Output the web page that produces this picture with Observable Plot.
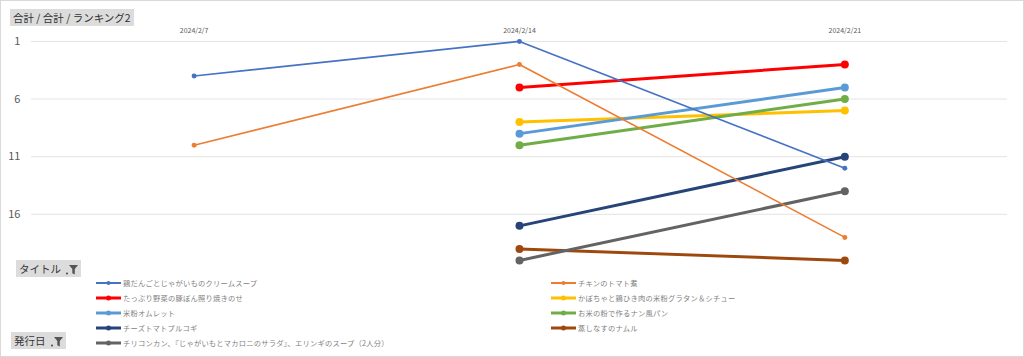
<!DOCTYPE html>
<html><head><meta charset="utf-8">
<script src="https://cdn.jsdelivr.net/npm/d3@7"></script>
<script src="https://cdn.jsdelivr.net/npm/@observablehq/plot@0.6"></script>
<style>
html,body{margin:0;padding:0;background:#fff;}
#wrap{position:relative;width:1024px;height:357px;box-sizing:border-box;border:1px solid #d9d9d9;overflow:hidden;font-family:"Noto Sans CJK JP","Noto Sans",sans-serif;}
#wrap svg.plot{position:absolute;left:-1px;top:-1px;}
.btn{position:absolute;background:#dcdcdc;color:#333;font-size:10.5px;line-height:17px;padding:0 3px;white-space:nowrap;}
.btn svg{vertical-align:-2px;margin-left:3px;}
.leg{position:absolute;font-size:7.3px;color:#7f7f7f;white-space:nowrap;line-height:10px;letter-spacing:0.2px;}
.leg svg{position:absolute;left:-27px;top:0;}
</style></head>
<body><div id="wrap"></div>
<script>
const dates = ["2024/2/7", "2024/2/14", "2024/2/21"];
const titles = [
  "鶏だんごとじゃがいものクリームスープ",
  "チキンのトマト煮",
  "たっぷり野菜の豚ぽん照り焼きのせ",
  "かぼちゃと鶏ひき肉の米粉グラタン＆シチュー",
  "米粉オムレット",
  "お米の粉で作るナン風パン",
  "チーズトマトプルコギ",
  "蒸しなすのナムル",
  "チリコンカン、『じゃがいもとマカロニのサラダ』、エリンギのスープ（2人分）"
];
const rank_0207 = [4, 10, null, null, null, null, null, null, null];
const rank_0214 = [1, 3, 5, 8, 9, 10, 17, 19, 20];
const rank_0221 = [12, 18, 3, 7, 5, 6, 11, 20, 14];
const colors = ["#4472C4", "#ED7D31", "#FF0000", "#FFC000", "#5B9BD5", "#70AD47", "#264478", "#9E480E", "#636363"];
const yTicks = [1, 6, 11, 16];

const cols = [rank_0207, rank_0214, rank_0221];
const rows = [];
titles.forEach((t, i) => {
  cols.forEach((c, j) => {
    if (c[i] != null) rows.push({title: t, date: dates[j], rank: c[i], thin: rank_0207[i] != null, idx: i});
  });
});
const thinRows = rows.filter(d => d.thin);
const thickRows = rows.filter(d => !d.thin);

const chart = Plot.plot({
  width: 1024, height: 357,
  marginLeft: 31, marginRight: 15, marginTop: 41, marginBottom: 85,
  style: {fontFamily: '"Noto Sans CJK JP","Noto Sans",sans-serif', background: "transparent"},
  x: {type: "point", domain: dates, padding: 0.5, label: null},
  y: {domain: [1, 21], reverse: true, label: null},
  color: {domain: titles, range: colors},
  marks: [
    Plot.gridY(yTicks, {stroke: "#e3e3e3", strokeOpacity: 1, strokeWidth: 1}),
    Plot.axisY(yTicks, {tickSize: 0, tickPadding: 11, fontSize: 11, fill: "#595959", label: null}),
    Plot.axisX({anchor: "top", tickSize: 0, tickPadding: 8, fontSize: 7, fill: "#595959", label: null}),
    Plot.line(thickRows, {x: "date", y: "rank", z: "title", stroke: "title", strokeWidth: 3, curve: "linear"}),
    Plot.dot(thickRows, {x: "date", y: "rank", fill: "title", r: 4}),
    Plot.line(thinRows, {x: "date", y: "rank", z: "title", stroke: "title", strokeWidth: 1.6, curve: "linear"}),
    Plot.dot(thinRows, {x: "date", y: "rank", fill: "title", r: 2.5})
  ]
});
chart.classList.add("plot");
const wrap = document.getElementById("wrap");
wrap.appendChild(chart);

const funnel = '<svg width="12" height="11" viewBox="0 0 12 11"><circle cx="1" cy="9.5" r="0.9" fill="#333"/><path d="M3 1 H12 L8.8 5 V10.5 L6.3 9.3 V5 Z" fill="#555"/></svg>';
function btn(text, x, y, icon) {
  const b = document.createElement("div");
  b.className = "btn";
  b.style.left = x + "px"; b.style.top = y + "px";
  b.innerHTML = text + (icon ? " " + funnel : "");
  wrap.appendChild(b);
}
btn("合計 / 合計 / ランキング2", 9, 8, false);
btn("タイトル", 15, 259, true);
btn("発行日", 10, 331, true);

titles.forEach((t, i) => {
  const col = i % 2, row = Math.floor(i / 2);
  const d = document.createElement("div");
  d.className = "leg";
  d.style.left = (col === 0 ? 122 : 577) + "px";
  d.style.top = (277 + row * 14.9) + "px";
  const thin = rank_0207[i] != null;
  d.innerHTML = `<svg width="26" height="10"><line x1="0" x2="25" y1="5" y2="5" stroke="${colors[i]}" stroke-width="${thin ? 2 : 3}"/><circle cx="12.5" cy="5" r="${thin ? 2 : 2.5}" fill="${colors[i]}"/></svg>` + t;
  wrap.appendChild(d);
});
</script></body></html>
